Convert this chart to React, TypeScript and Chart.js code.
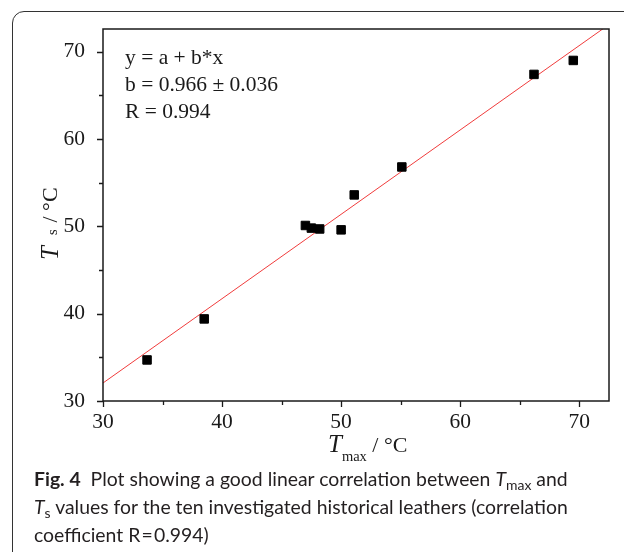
import React, { useEffect, useRef } from 'react';
import { Chart, registerables } from 'chart.js';

Chart.register(...registerables);

// ---- data ----
const tMax = [33.7, 38.5, 47.0, 47.5, 48.2, 50.0, 51.1, 55.1, 66.2, 69.5];
const tS = [34.7, 39.4, 50.1, 49.8, 49.7, 49.6, 53.6, 56.8, 67.4, 69.0];
const fitA = 3.08; // intercept of the drawn fit line
const fitB = 0.966; // slope
const xRange = [30, 72.5];
const yRange = [30, 72.6];
const tickStep = 10;
const minorStep = 5;
const annotationLines = ['y = a + b*x', 'b = 0.966 \u00b1 0.036', 'R = 0.994'];

const SERIF = '"Liberation Serif", "Times New Roman", serif';
const INK = '#1a1a1a';

type Seg = { text: string; font: string; dy?: number; at?: number };

function drawRich(ctx: CanvasRenderingContext2D, segs: Seg[]) {
  let x = 0;
  for (const s of segs) {
    if (s.at !== undefined) x = s.at;
    ctx.font = s.font;
    ctx.fillText(s.text, x, s.dy || 0);
    x += ctx.measureText(s.text).width;
  }
}

const overlayPlugin = {
  id: 'overlay',
  afterDraw(chart: any) {
    const { ctx, chartArea: a, scales } = chart;
    const xs = scales.x;
    const ys = scales.y;
    ctx.save();
    // frame of the plot
    ctx.strokeStyle = INK;
    ctx.lineWidth = 1.5;
    ctx.strokeRect(a.left, a.top, a.right - a.left, a.bottom - a.top);
    // outward ticks (major + minor)
    ctx.lineWidth = 1.3;
    ctx.beginPath();
    for (let v = xRange[0]; v <= xRange[1] + 1e-9; v += minorStep) {
      const len = v % tickStep === 0 ? 6 : 4;
      const px = Math.round(xs.getPixelForValue(v)) + 0.5;
      ctx.moveTo(px, a.bottom);
      ctx.lineTo(px, a.bottom + len);
    }
    for (let v = yRange[0]; v <= yRange[1] + 1e-9; v += minorStep) {
      const len = v % tickStep === 0 ? 6 : 4;
      const py = Math.round(ys.getPixelForValue(v)) + 0.5;
      ctx.moveTo(a.left, py);
      ctx.lineTo(a.left - len, py);
    }
    ctx.stroke();

    ctx.fillStyle = INK;
    ctx.textBaseline = 'alphabetic';
    ctx.textAlign = 'left';

    // annotation box text
    ctx.font = `21.5px ${SERIF}`;
    annotationLines.forEach((t, i) => {
      ctx.fillText(t, a.left + 22, a.top + 34.5 + i * 27);
    });

    // x axis title: T_max / °C
    ctx.save();
    ctx.translate(a.left + 225, a.bottom + 51);
    drawRich(ctx, [
      { text: 'T', font: `italic 25px ${SERIF}` },
      { text: 'max', font: `14.5px ${SERIF}`, dy: 8.5 },
      { text: ' / \u00b0C', font: `22px ${SERIF}` },
    ]);
    ctx.restore();

    // y axis title: T_s / °C (rotated)
    ctx.save();
    ctx.translate(a.left - 46, a.bottom - 141);
    ctx.rotate(-Math.PI / 2);
    drawRich(ctx, [
      { text: 'T', font: `italic 25px ${SERIF}`, dy: 1 },
      { text: 's', font: `14.5px ${SERIF}`, at: 25 },
      { text: ' / \u00b0C', font: `22px ${SERIF}`, at: 32 },
    ]);
    ctx.restore();

    ctx.restore();
  },
};

export default function App() {
  const canvasRef = useRef<HTMLCanvasElement | null>(null);

  useEffect(() => {
    const canvas = canvasRef.current;
    if (!canvas) return;
    const points = tMax.map((x, i) => ({ x, y: tS[i] }));
    const fitLine = xRange.map((x) => ({ x, y: fitA + fitB * x }));

    const chart = new Chart(canvas, {
      type: 'scatter',
      data: {
        datasets: [
          {
            type: 'scatter',
            data: points,
            pointStyle: 'rect',
            pointRadius: 6,
            pointBackgroundColor: '#000',
            pointBorderColor: '#000',
            pointBorderWidth: 1,
          } as any,
          {
            type: 'line',
            data: fitLine,
            borderColor: '#f03c3c',
            borderWidth: 1,
            pointRadius: 0,
            fill: false,
          } as any,
        ],
      },
      options: {
        animation: false,
        responsive: false,
        events: [],
        layout: { padding: { top: 29, right: 15, left: 0, bottom: 0 } },
        plugins: { legend: { display: false }, tooltip: { enabled: false } },
        scales: {
          x: {
            type: 'linear',
            min: xRange[0],
            max: xRange[1],
            border: { display: false },
            grid: { display: false },
            ticks: {
              stepSize: tickStep,
              includeBounds: false,
              padding: 0,
              color: INK,
              font: { family: SERIF, size: 21.5 },
              maxRotation: 0,
            },
            afterFit: (s: any) => {
              s.height = 151;
            },
          },
          y: {
            type: 'linear',
            min: yRange[0],
            max: yRange[1],
            border: { display: false },
            grid: { display: false },
            ticks: {
              stepSize: tickStep,
              includeBounds: false,
              padding: 10,
              color: INK,
              font: { family: SERIF, size: 21.5 },
            },
            afterFit: (s: any) => {
              s.width = 103;
            },
          },
        },
      },
      plugins: [overlayPlugin],
    });
    return () => chart.destroy();
  }, []);

  const sub: React.CSSProperties = { fontSize: '0.72em', verticalAlign: '-0.3em', lineHeight: 0 };

  return (
    <div
      style={{
        position: 'fixed',
        left: 0,
        top: 0,
        width: 624,
        height: 552,
        overflow: 'hidden',
        background: '#fff',
      }}
    >
      <div
        style={{
          position: 'absolute',
          left: 12,
          top: 11,
          width: 900,
          height: 900,
          border: '1.5px solid #333',
          borderRadius: 12,
          boxSizing: 'border-box',
        }}
      />
      <canvas
        ref={canvasRef}
        width={624}
        height={552}
        style={{ position: 'absolute', left: 0, top: 0, width: 624, height: 552 }}
      />
      <div
        style={{
          position: 'absolute',
          left: 34,
          top: 465,
          fontFamily: 'Lato, "Open Sans", sans-serif',
          fontSize: 19.4,
          lineHeight: '28px',
          color: '#231f20',
          whiteSpace: 'nowrap',
        }}
      >
        <div>
          <b>Fig.&nbsp;4</b>&nbsp; Plot showing a good linear correlation between <i>T</i>
          <span style={sub}>max</span> and
        </div>
        <div>
          <i>T</i>
          <span style={sub}>s</span> values for the ten investigated historical leathers (correlation
        </div>
        <div>coefficient R&#8202;=&#8202;0.994)</div>
      </div>
    </div>
  );
}
